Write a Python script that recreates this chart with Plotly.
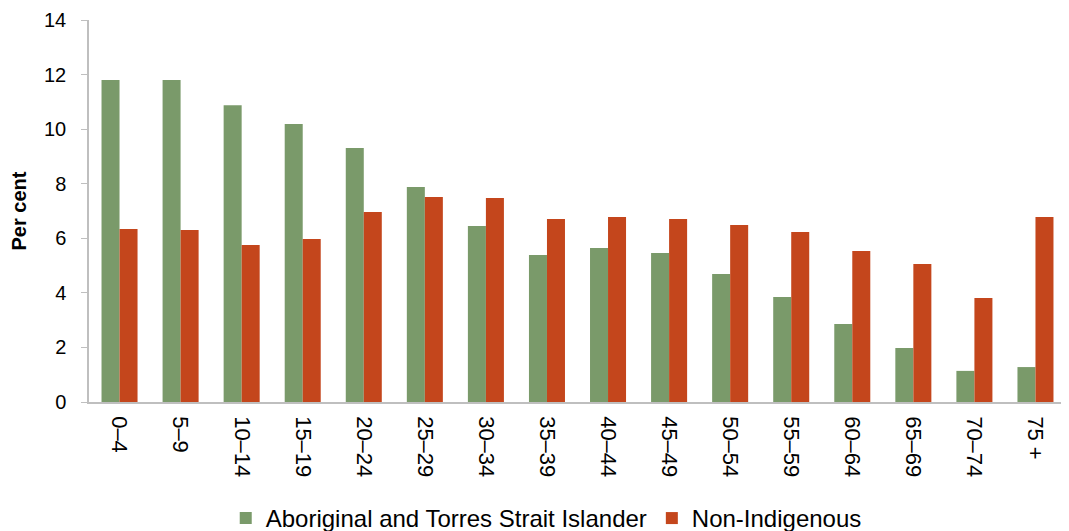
import plotly.graph_objects as go

categories = ["0–4", "5–9", "10–14", "15–19", "20–24", "25–29", "30–34", "35–39",
              "40–44", "45–49", "50–54", "55–59", "60–64", "65–69", "70–74", "75 +"]
indigenous = [11.8, 11.8, 10.88, 10.19, 9.31, 7.88, 6.45, 5.39,
              5.64, 5.46, 4.69, 3.85, 2.86, 1.98, 1.14, 1.28]
non_indigenous = [6.34, 6.30, 5.75, 5.97, 6.96, 7.51, 7.48, 6.71,
                  6.78, 6.71, 6.49, 6.23, 5.53, 5.06, 3.81, 6.78]

font = "Liberation Sans, Arial, sans-serif"

fig = go.Figure()
fig.add_trace(go.Bar(x=categories, y=indigenous, name="Aboriginal and Torres Strait Islander",
                     marker=dict(color="#7A9A6A", line=dict(width=0))))
fig.add_trace(go.Bar(x=categories, y=non_indigenous, name="Non-Indigenous",
                     marker=dict(color="#C4461C", line=dict(width=0))))

# page body has an 8px default margin, so the figure is sized to fit inside the window
fig.update_layout(
    width=1061, height=523,
    margin=dict(l=81, r=3, t=12, b=129, autoexpand=False),
    paper_bgcolor="white", plot_bgcolor="white",
    barmode="group", bargap=0.41, bargroupgap=0,
    font=dict(family=font, size=20, color="#000000"),
    legend=dict(orientation="h", x=0.468, xanchor="center", y=-0.246, yanchor="top",
                font=dict(size=24), itemwidth=30, tracegroupgap=0),
    xaxis=dict(tickangle=90, showline=True, linecolor="#BFBFBF", linewidth=1.5,
               ticks="", showgrid=False, tickfont=dict(size=22), automargin=False,
               ticklabelstandoff=8),
    yaxis=dict(range=[0, 14], dtick=2, showline=True, linecolor="#BFBFBF", linewidth=1.5,
               ticks="outside", ticklen=6, tickcolor="#BFBFBF", showgrid=False,
               zeroline=False, tickfont=dict(size=20), automargin=False,
               ticklabelstandoff=11,
               title=dict(text="<b>Per cent</b>", font=dict(size=20), standoff=24)),
)

fig.write_html("out.html")
